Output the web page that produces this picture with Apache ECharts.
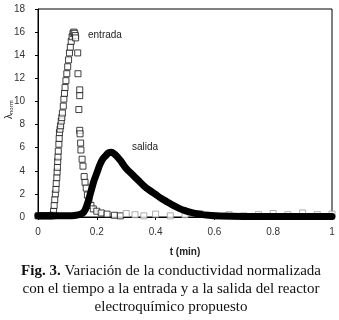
<!DOCTYPE html>
<html>
<head>
<meta charset="utf-8">
<script src="https://cdn.jsdelivr.net/npm/echarts@6/dist/echarts.min.js"></script>
<style>
  html, body { margin: 0; padding: 0; background: #fff; }
  #chart { width: 339px; height: 320px; }
</style>
</head>
<body>
<div id="chart"></div>
<script>
// entrada: [t (min), lambda_norm]
var entradaRise = [
  [0.051, 0.2], [0.053, 0.5], [0.055, 1.0], [0.057, 1.5], [0.059, 2.0], [0.061, 2.4],
  [0.062, 2.9], [0.064, 3.4], [0.065, 3.9], [0.066, 4.3], [0.067, 4.8], [0.068, 5.2],
  [0.069, 5.7], [0.071, 6.3], [0.072, 6.8], [0.073, 7.3], [0.075, 7.6], [0.077, 7.9],
  [0.079, 8.3], [0.081, 8.6], [0.083, 9.0], [0.086, 9.6], [0.088, 10.2], [0.090, 10.7],
  [0.092, 11.2], [0.095, 11.8], [0.098, 12.4], [0.101, 13.0], [0.104, 13.6], [0.107, 14.2],
  [0.110, 14.7], [0.113, 15.2], [0.116, 15.6], [0.119, 15.9], [0.122, 16.0], [0.125, 15.9],
  [0.127, 15.7], [0.128, 15.5]
];
var entradaFall = [
  [0.135, 14.2], [0.136, 12.4], [0.142, 11.0], [0.142, 10.5], [0.139, 9.3], [0.142, 7.5],
  [0.143, 7.2], [0.145, 6.4], [0.146, 5.8], [0.150, 5.0], [0.153, 4.4], [0.157, 3.5],
  [0.160, 3.0], [0.164, 2.5], [0.168, 1.9], [0.173, 1.4], [0.180, 1.0], [0.188, 0.7],
  [0.200, 0.5], [0.215, 0.35], [0.235, 0.25], [0.26, 0.15], [0.28, 0.1]
];
var entradaBase = [
  [0.0, 0.1], [0.01, 0.1], [0.02, 0.1], [0.03, 0.1], [0.04, 0.1], [0.048, 0.1]
];
var entradaTail = [
  [0.30, 0.3], [0.33, 0.2], [0.36, 0.1], [0.40, 0.25], [0.45, 0.1], [0.50, 0.2],
  [0.55, 0.3], [0.60, 0.1], [0.65, 0.2], [0.70, 0.1], [0.75, 0.2], [0.80, 0.3],
  [0.85, 0.2], [0.90, 0.35], [0.95, 0.2], [1.0, 0.25]
];
// salida: [t (min), lambda_norm]
var salida = [
  [0.0, 0.1], [0.05, 0.1], [0.10, 0.1], [0.13, 0.15], [0.15, 0.3], [0.16, 0.6],
  [0.17, 1.3], [0.18, 2.2], [0.19, 3.1], [0.20, 3.8], [0.21, 4.5], [0.22, 5.0],
  [0.23, 5.3], [0.24, 5.55], [0.25, 5.6], [0.26, 5.45], [0.27, 5.2], [0.28, 4.9],
  [0.30, 4.2], [0.32, 3.7], [0.34, 3.2], [0.36, 2.7], [0.38, 2.3], [0.40, 1.95],
  [0.42, 1.6], [0.44, 1.3], [0.46, 1.0], [0.48, 0.75], [0.50, 0.55], [0.52, 0.4],
  [0.55, 0.25], [0.58, 0.15], [0.62, 0.08], [0.70, 0.05], [0.80, 0.05], [0.90, 0.05],
  [1.0, 0.05]
];
var captionLines = [
  '{b|Fig. 3.} Variación de la conductividad normalizada',
  'con el tiempo a la entrada y a la salida del reactor',
  'electroquímico propuesto'
];

var chart = echarts.init(document.getElementById('chart'));

chart.setOption({
  animation: false,
  grid: { left: 38, right: 7, top: 9, bottom: 103, show: true, borderColor: '#000', borderWidth: 1 },
  xAxis: {
    type: 'value', min: 0, max: 1, interval: 0.2,
    axisLine: { show: true, onZero: false, lineStyle: { color: '#000', width: 1 } },
    axisTick: { show: true, inside: false, length: 3, lineStyle: { color: '#000' } },
    splitLine: { show: false },
    axisLabel: { color: '#333', fontSize: 10, fontFamily: 'Liberation Sans', margin: 10 }
  },
  yAxis: {
    type: 'value', min: 0, max: 18, interval: 2,
    axisLine: { show: true, lineStyle: { color: '#000', width: 1 } },
    axisTick: { show: true, inside: false, length: 3, lineStyle: { color: '#000' } },
    splitLine: { show: false },
    axisLabel: { color: '#333', fontSize: 10, fontFamily: 'Liberation Sans', margin: 13 }
  },
  series: [
    {
      name: 'entrada', type: 'scatter', symbol: 'rect', symbolSize: 6,
      itemStyle: { color: '#fff', borderColor: '#111', borderWidth: 1 },
      data: entradaRise.concat(entradaFall, entradaBase), z: 2
    },
    {
      name: 'entrada tail', type: 'scatter', symbol: 'rect', symbolSize: 6,
      itemStyle: { color: '#fff', borderColor: '#999', borderWidth: 1 }, data: entradaTail, z: 2
    },
    {
      name: 'salida', type: 'line', smooth: 0.3, showSymbol: false,
      lineStyle: { color: '#000', width: 7, cap: 'round', join: 'round' },
      data: salida, z: 3
    }
  ],
  graphic: [
    { type: 'text', x: 88, y: 35, style: { text: 'entrada', fontSize: 10, fontFamily: 'Liberation Sans', fill: '#222', verticalAlign: 'middle' } },
    { type: 'text', x: 132, y: 147, style: { text: 'salida', fontSize: 10, fontFamily: 'Liberation Sans', fill: '#222', verticalAlign: 'middle' } },
    {
      type: 'text', x: 4, y: 119, rotation: Math.PI / 2,
      style: {
        text: 'λ{s|norm}', fontSize: 10, fontFamily: 'Liberation Sans', fill: '#222',
        rich: { s: { fontSize: 6, verticalAlign: 'bottom', padding: [4, 0, 0, 0] } }
      }
    },
    {
      type: 'text', x: 185, y: 252,
      style: { text: 't (min)', fontSize: 10, fontWeight: 'bold', fontFamily: 'Liberation Sans', fill: '#222', align: 'center', verticalAlign: 'middle' }
    },
    {
      type: 'text', x: 171, y: 289,
      style: {
        text: captionLines.join('\n'), fontSize: 15, lineHeight: 18, fontFamily: 'Liberation Serif',
        fill: '#111', align: 'center', verticalAlign: 'middle',
        rich: { b: { fontWeight: 'bold', fontSize: 15, fontFamily: 'Liberation Serif', fill: '#111' } }
      }
    }
  ]
});
</script>
</body>
</html>
